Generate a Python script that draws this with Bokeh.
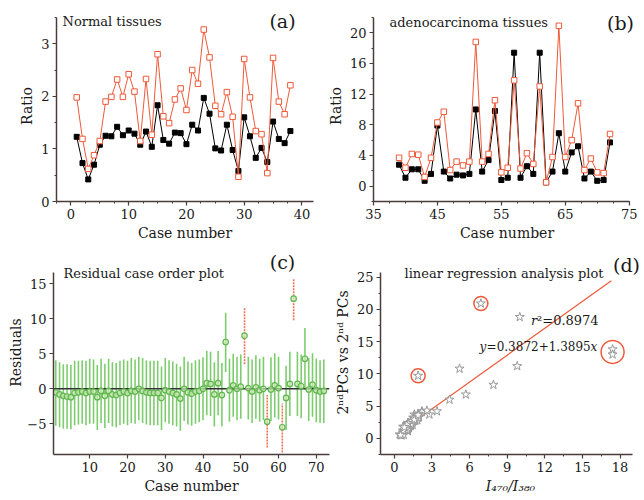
from bokeh.plotting import figure
from bokeh.layouts import column, row
from bokeh.models import Label, FixedTicker, ColumnDataSource, Range1d
from bokeh.embed import file_html
from bokeh.resources import INLINE

FONT = "DejaVu Serif"

# ---------------- data ----------------
cases_normal = list(range(1, 39))
normal_black = [1.23, 0.73, 0.42, 0.70, 1.08, 1.25, 1.24, 1.42, 1.26, 1.35,
                1.29, 1.08, 1.33, 1.04, 1.83, 1.17, 1.10, 1.31, 1.30, 1.09,
                1.46, 1.35, 1.97, 1.67, 1.01, 0.97, 1.46, 0.98, 0.58, 1.60,
                1.24, 0.83, 1.02, 0.75, 1.52, 1.19, 1.11, 1.34]
normal_red = [1.98, 1.19, 0.62, 0.88, 1.15, 1.90, 1.99, 2.32, 1.99, 2.42,
              2.09, 1.15, 2.33, 1.27, 2.80, 1.62, 1.49, 1.94, 2.15, 1.74,
              2.50, 2.24, 3.27, 2.74, 1.82, 1.66, 2.08, 1.61, 0.47, 2.71,
              1.98, 1.34, 1.28, 0.54, 2.73, 1.90, 1.66, 2.21]

cases_adeno = list(range(39, 73))
adeno_black = [2.8, 1.1, 2.2, 2.2, 0.7, 1.6, 7.9, 1.9, 1.0, 1.5,
               1.4, 1.6, 10.0, 1.9, 3.4, 9.8, 0.8, 1.1, 17.4, 1.1,
               2.6, 1.6, 17.4, 0.5, 1.9, 6.9, 1.9, 4.4, 5.2, 1.0,
               1.9, 0.7, 0.8, 5.7]
adeno_red = [3.7, 2.4, 4.2, 4.1, 1.2, 3.7, 8.3, 9.7, 2.1, 3.2,
             2.7, 3.2, 18.8, 3.2, 4.2, 11.2, 1.8, 2.4, 13.8, 2.3,
             4.3, 2.9, 13.0, 0.5, 3.8, 20.9, 3.8, 6.0, 10.8, 2.1,
             3.6, 1.8, 1.7, 6.8]

cases_all = list(range(1, 73))
residuals = [-0.5, -0.8, -1.0, -1.1, -1.2, -0.6, -0.5, -0.4, -0.6, -0.4,
             -0.4, -1.2, -0.3, -1.0, -0.3, -0.8, -0.9, -0.6, -0.4, -0.6,
             -0.3, -0.4, 0.0, -0.3, -0.5, -0.6, -0.6, -0.6, -1.3, -0.2,
             -0.4, -0.6, -0.8, -1.4, 0.0, -0.5, -0.7, -0.4, -0.3, 0.0,
             0.8, 0.7, -0.8, 0.8, -0.9, 6.7, -0.2, 0.5, 0.0, 0.3,
             7.6, 0.1, -0.4, 0.2, -0.2, 0.0, -4.7, -0.1, 0.5, 0.1,
             -5.5, -1.3, 0.7, 12.9, 0.7, 0.4, 4.3, -0.1, 0.6, -0.2,
             -0.4, -0.3]
res_upper = [4.1, 3.8, 3.5, 3.5, 3.4, 4.0, 4.0, 4.1, 4.0, 4.3,
             4.2, 3.4, 4.3, 3.6, 4.3, 3.8, 3.7, 4.0, 4.2, 4.0,
             4.4, 4.2, 4.6, 4.4, 4.1, 4.0, 4.0, 4.0, 3.2, 4.4,
             4.1, 3.9, 3.6, 3.2, 4.6, 3.9, 3.7, 4.1, 4.2, 4.5,
             5.4, 5.3, 3.8, 5.4, 3.7, 10.9, 4.3, 5.0, 4.6, 4.9,
             11.6, 4.6, 4.2, 4.8, 4.3, 4.6, -0.9, 4.5, 5.1, 4.6,
             -2.1, 3.3, 5.3, 15.7, 5.3, 4.9, 8.7, 4.4, 5.1, 4.3,
             4.1, 4.2]
res_lower = [-5.3, -5.5, -5.7, -5.7, -5.8, -5.2, -5.1, -5.0, -5.2, -5.0,
             -5.0, -5.9, -4.9, -5.6, -4.9, -5.4, -5.5, -5.2, -5.0, -5.2,
             -4.9, -5.0, -4.5, -4.9, -5.1, -5.2, -5.2, -5.2, -5.9, -4.8,
             -5.0, -5.2, -5.4, -6.0, -4.6, -5.1, -5.3, -5.0, -4.8, -4.5,
             -3.8, -3.9, -5.4, -3.8, -5.4, 2.4, -4.7, -4.0, -4.5, -4.3,
             3.5, -4.4, -4.9, -4.3, -4.7, -4.5, -8.4, -4.6, -4.1, -4.4,
             -9.1, -5.9, -3.9, 9.8, -3.9, -4.2, -0.1, -4.6, -4.0, -4.8,
             -4.9, -4.9]
outlier_cases = [51, 57, 61, 64]

fit_intercept = 0.3872
fit_slope = 1.3895
fit_r2 = 0.8974
fit_x = [0.4, 17.3]
small_circle_cases = [46, 64]
big_circle_cases = [57, 61]

# ---------------- styling helpers ----------------
AXC = "#4a3c3c"
RED = "#ef5a3a"
TXT = "#1a1a1a"


def make_fig(w, h, xr, yr, xb, yb, left, right, top, bottom):
    p = figure(width=w, height=h, x_range=Range1d(*xr), y_range=Range1d(*yr),
               output_backend="svg", toolbar_location=None,
               min_border_left=left, min_border_right=right,
               min_border_top=top, min_border_bottom=bottom)
    p.grid.visible = False
    p.outline_line_color = None
    p.xaxis.bounds = xb
    p.yaxis.bounds = yb
    for ax in (p.xaxis[0], p.yaxis[0]):
        ax.axis_line_color = AXC
        ax.axis_line_width = 1.5
        ax.major_tick_line_color = AXC
        ax.minor_tick_line_color = AXC
        ax.major_tick_line_width = 1.2
        ax.major_tick_in = 0
        ax.major_tick_out = 4
        ax.minor_tick_in = 0
        ax.minor_tick_out = 2
        ax.major_label_text_font = FONT
        ax.major_label_text_font_size = "13px"
        ax.major_label_text_color = TXT
        ax.axis_label_text_font = FONT
        ax.axis_label_text_font_size = "14px"
        ax.axis_label_text_font_style = "normal"
        ax.axis_label_text_color = TXT
        ax.major_label_standoff = 3
        ax.axis_label_standoff = 3
    return p


def add_text(p, x, y, text, size="13px", align="left", style="normal", x_offset=0):
    p.add_layout(Label(x=x, y=y, text=text, text_font=FONT, text_font_size=size,
                       text_align=align, text_baseline="middle", text_color=TXT,
                       text_font_style=style, x_offset=x_offset))


def add_screen_text(p, sx, sy, text, size="13px", align="left"):
    p.add_layout(Label(x=sx, y=sy, x_units="screen", y_units="screen", text=text,
                       text_font=FONT, text_font_size=size, text_align=align,
                       text_baseline="middle", text_color=TXT))


def minor(start, stop, step):
    out = []
    v = start
    while v <= stop + 1e-9:
        out.append(round(v, 4))
        v += step
    return out

# ---------------- (a) ----------------
pa = make_fig(322, 250, (-2.5, 42), (0, 3.632), (-2.5, 42), (0, 3.5), 56, 9, 10, 47)
pa.xaxis.ticker = FixedTicker(ticks=[0, 10, 20, 30, 40], minor_ticks=minor(-2.5, 42, 2.5))
pa.yaxis.ticker = FixedTicker(ticks=[0, 1, 2, 3], minor_ticks=minor(0, 3.5, 0.5))
pa.xaxis.axis_label = "Case number"
pa.yaxis.axis_label = "Ratio"
pa.line(cases_normal, normal_black, line_color="black", line_width=1)
pa.scatter(cases_normal, normal_black, marker="square", size=5, fill_color="black", line_color="black")
pa.line(cases_normal, normal_red, line_color=RED, line_width=1)
pa.scatter(cases_normal, normal_red, marker="square", size=5.5, fill_color="white", line_color=RED, line_width=1)
add_screen_text(pa, 6, 180, "Normal tissues")
add_screen_text(pa, 226, 181, "(a)", size="19px", align="center")

# ---------------- (b) ----------------
pb = make_fig(322, 250, (35, 76.77), (-2, 22.9), (35, 75), (-2, 22), 51, 4, 8, 49)
pb.xaxis.ticker = FixedTicker(ticks=[35, 45, 55, 65, 75], minor_ticks=minor(35, 75, 2.5))
pb.yaxis.ticker = FixedTicker(ticks=[0, 4, 8, 12, 16, 20], minor_ticks=minor(-2, 22, 2))
pb.xaxis.axis_label = "Case number"
pb.yaxis.axis_label = "Ratio"
pb.line(cases_adeno, adeno_black, line_color="black", line_width=1)
pb.scatter(cases_adeno, adeno_black, marker="square", size=5, fill_color="black", line_color="black")
pb.line(cases_adeno, adeno_red, line_color=RED, line_width=1)
pb.scatter(cases_adeno, adeno_red, marker="square", size=5.5, fill_color="white", line_color=RED, line_width=1)
add_screen_text(pb, 16, 179, "adenocarcinoma tissues")
add_screen_text(pb, 247, 179, "(b)", size="19px", align="center")

# ---------------- (c) ----------------
pc = make_fig(331, 250, (0.4, 73.5), (-9.4, 19.79), (0.4, 73.5), (-9.4, 16.7), 53, 2, 0, 42)
pc.xaxis.ticker = FixedTicker(ticks=[10, 20, 30, 40, 50, 60, 70], minor_ticks=[])
pc.yaxis.ticker = FixedTicker(ticks=[-5, 0, 5, 10, 15], minor_ticks=[])
pc.yaxis.major_label_overrides = {-5: "\u22125"}
pc.yaxis.axis_label_standoff = 0
pc.xaxis.axis_label = "Case number"
pc.yaxis.axis_label = "Residuals"
normal_idx = [i for i, c in enumerate(cases_all) if c not in outlier_cases]
out_idx = [i for i, c in enumerate(cases_all) if c in outlier_cases]
src_n = ColumnDataSource(dict(x=[cases_all[i] for i in normal_idx],
                              lo=[res_lower[i] for i in normal_idx],
                              hi=[res_upper[i] for i in normal_idx]))
src_o = ColumnDataSource(dict(x=[cases_all[i] for i in out_idx],
                              lo=[res_lower[i] for i in out_idx],
                              hi=[res_upper[i] for i in out_idx]))
pc.segment(x0="x", y0="lo", x1="x", y1="hi", source=src_n, line_color="#66c455", line_width=1.6, line_alpha=0.85)
pc.segment(x0="x", y0="lo", x1="x", y1="hi", source=src_o, line_color=RED, line_width=1.6,
           line_dash="2 1", line_alpha=0.85)
pc.line([0.4, 73.5], [0, 0], line_color="#333333", line_width=1.6)
pc.scatter(cases_all, residuals, marker="circle", size=5.5, fill_color="#cdebb8", fill_alpha=0.7,
           line_color="#62b64f", line_width=1.2)
add_screen_text(pc, 10, 181, "Residual case order plot")
add_screen_text(pc, 229, 193, "(c)", size="19px", align="center")

# ---------------- (d) ----------------
pd_ = make_fig(313, 250, (-1.1, 19.625), (-2.5, 29.11), (-1.1, 19), (-2.5, 25.7), 44, 4, 0, 46)
pd_.xaxis.ticker = FixedTicker(ticks=[0, 3, 6, 9, 12, 15, 18], minor_ticks=minor(-1.5, 19, 1.5))
pd_.yaxis.ticker = FixedTicker(ticks=[0, 5, 10, 15, 20, 25], minor_ticks=minor(-2.5, 25, 2.5))
pd_.xaxis.axis_label = "I\u2084\u2087\u2080/I\u2083\u2088\u2080"
pd_.xaxis.axis_label_text_font_style = "italic"
pd_.yaxis.axis_label = "2\u207f\u1d48PCs vs 2\u207f\u1d48 PCs"
all_black = normal_black + adeno_black
all_red = normal_red + adeno_red
fit_y = [fit_intercept + fit_slope * v for v in fit_x]
pd_.line(fit_x, fit_y, line_color=RED, line_width=1.2)
pd_.scatter(all_black, all_red, marker="star", size=9.5, fill_color="white", line_color="#999999", line_width=1)
sx = [all_black[c - 1] for c in small_circle_cases]
sy = [all_red[c - 1] for c in small_circle_cases]
pd_.scatter(sx, sy, marker="circle", size=14, fill_color=None, line_color=RED, line_width=1.5)
bx = [sum(all_black[c - 1] for c in big_circle_cases) / len(big_circle_cases)]
by = [sum(all_red[c - 1] for c in big_circle_cases) / len(big_circle_cases)]
pd_.scatter(bx, by, marker="circle", size=23, fill_color=None, line_color=RED, line_width=1.5)
add_screen_text(pd_, 24, 181, "linear regression analysis plot")
add_screen_text(pd_, 246, 190, "(d)", size="19px", align="center")
add_text(pd_, 10.9, 18.3, "r", size="13px", style="italic")
add_text(pd_, 10.9, 18.3, "\u00b2=%.4f" % fit_r2, size="13px", x_offset=6)
add_text(pd_, 6.8, 14.1, "y", size="12px", style="italic")
add_text(pd_, 6.8, 14.1, "=%.4f+%.4f" % (fit_intercept, fit_slope), size="12px", x_offset=7)
add_text(pd_, 6.8, 14.1, "x", size="12px", style="italic", x_offset=111)

layout = column(row(pa, pb), row(pc, pd_))
open("out.html", "w").write(file_html(layout, INLINE))
